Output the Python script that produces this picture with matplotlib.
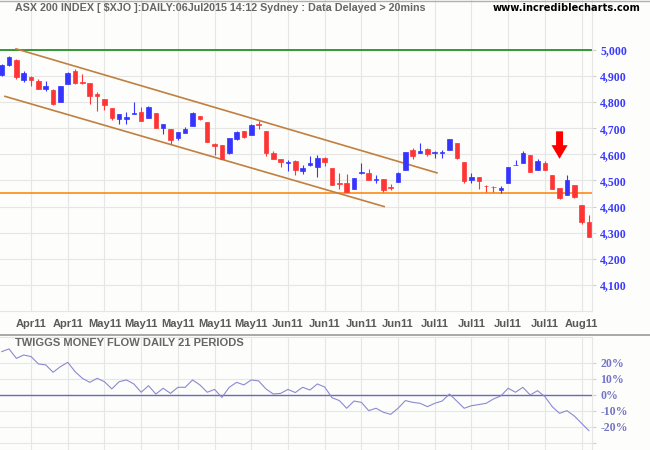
import matplotlib
matplotlib.use('Agg')
import matplotlib.pyplot as plt
from matplotlib.lines import Line2D
from matplotlib.patches import FancyArrow
import numpy as np

# daily candles (index 0..80)
opens = [4904, 4943, 4962, 4885, 4898, 4881, 4851, 4847, 4801, 4871,
         4920, 4878, 4875, 4830, 4813, 4778, 4736, 4734, 4754, 4763,
         4741, 4757, 4699, 4696, 4661, 4683, 4708, 4745, 4724, 4641,
         4634, 4604, 4660, 4688, 4673, 4717, 4688, 4604, 4581, 4568,
         4574, 4537, 4561, 4552, 4585, 4549, 4492, 4490, 4469, 4530,
         4528, 4503, 4505, 4476, 4495, 4540, 4615, 4605, 4619, 4606,
         4606, 4617, 4642, 4572, 4501, 4515, 4480, 4476, 4465, 4490,
         4558, 4567, 4596, 4541, 4566, 4520, 4471, 4446, 4482, 4405,
         4342]
highs = [4947, 4978, 4964, 4920, 4901, 4889, 4881, 4850, 4860, 4916,
         4926, 4908, 4875, 4837, 4813, 4778, 4754, 4763, 4799, 4782,
         4786, 4757, 4715, 4696, 4685, 4706, 4764, 4745, 4724, 4645,
         4634, 4661, 4689, 4688, 4718, 4727, 4688, 4614, 4581, 4577,
         4577, 4558, 4594, 4596, 4590, 4549, 4528, 4524, 4511, 4568,
         4543, 4520, 4505, 4486, 4534, 4610, 4623, 4642, 4625, 4614,
         4616, 4657, 4642, 4572, 4530, 4515, 4484, 4479, 4480, 4551,
         4577, 4614, 4596, 4581, 4573, 4520, 4471, 4520, 4482, 4405,
         4366]
lows = [4900, 4939, 4889, 4878, 4860, 4850, 4841, 4790, 4801, 4869,
        4870, 4870, 4794, 4767, 4771, 4730, 4717, 4715, 4754, 4726,
        4741, 4699, 4676, 4641, 4655, 4680, 4708, 4730, 4647, 4597,
        4581, 4600, 4655, 4661, 4673, 4696, 4594, 4581, 4552, 4536,
        4521, 4523, 4556, 4514, 4556, 4483, 4467, 4456, 4469, 4524,
        4501, 4492, 4456, 4464, 4495, 4540, 4581, 4605, 4594, 4586,
        4586, 4617, 4581, 4492, 4490, 4467, 4457, 4455, 4451, 4490,
        4558, 4567, 4533, 4541, 4541, 4467, 4427, 4446, 4434, 4332,
        4284]
closes = [4943, 4972, 4898, 4913, 4885, 4851, 4862, 4794, 4860, 4911,
          4875, 4873, 4825, 4825, 4787, 4741, 4754, 4744, 4757, 4726,
          4783, 4699, 4715, 4655, 4685, 4696, 4757, 4734, 4647, 4632,
          4583, 4661, 4685, 4667, 4711, 4712, 4606, 4583, 4571, 4572,
          4539, 4549, 4567, 4587, 4571, 4483, 4488, 4456, 4508, 4534,
          4501, 4505, 4463, 4472, 4530, 4610, 4594, 4611, 4600, 4608,
          4608, 4657, 4585, 4496, 4515, 4496, 4477, 4474, 4471, 4551,
          4561, 4604, 4533, 4573, 4541, 4467, 4432, 4501, 4438, 4341,
          4284]

# Twiggs money flow, %
money_flow = [27.1, 28.8, 22.9, 25.0, 24.0, 19.4, 18.8, 14.2, 17.7, 20.4,
              14.6, 10.4, 7.9, 10.4, 8.3, 3.8, 8.3, 9.4, 6.9, 1.7,
              5.8, 0.6, 4.2, 1.0, 4.8, 4.8, 9.4, 6.3, 1.7, 3.5,
              -1.5, 4.8, 7.9, 6.3, 9.4, 8.8, 3.8, 0.6, 1.0, 3.5,
              1.5, 4.8, 3.1, 6.9, 5.0, -1.7, -3.5, -8.3, -3.8, -4.6,
              -9.8, -8.3, -10.8, -12.1, -8.3, -3.5, -4.6, -5.2, -7.3, -5.2,
              -3.8, 0.6, -3.8, -8.3, -6.7, -6.0, -5.2, -2.5, -0.6, 4.2,
              1.7, 4.8, 0.0, 2.7, -1.0, -7.3, -11.5, -9.8, -13.1, -17.7,
              -22.3]

date_ticks = [4, 9, 14, 19, 24, 29, 34, 39, 44, 49, 54, 59, 64, 69, 74, 79]
date_labels = ['Apr11', 'Apr11', 'May11', 'May11', 'May11', 'May11', 'May11', 'Jun11',
               'Jun11', 'Jun11', 'Jun11', 'Jul11', 'Jul11', 'Jul11', 'Jul11', 'Aug11']

price_ticks = [4100, 4200, 4300, 4400, 4500, 4600, 4700, 4800, 4900, 5000]
mf_ticks = [-20, -10, 0, 10, 20]

resistance = 5000
support = 4450
upper_channel = ([1.95, 59.3], [5004, 4529])
lower_channel = ([0.45, 52.1], [4822, 4400])
arrow_idx, arrow_top, arrow_tip = 76, 4688, 4583

bg = '#fdfdfb'
grid_c = '#e6e6e6'
red = '#ff3535'
blue = '#3535ff'
W, H = 650, 450

fig = plt.figure(figsize=(6.5, 4.5), dpi=100, facecolor=bg)
ax = fig.add_axes([0, 1 - 311 / H, 592 / W, 311 / H], facecolor=bg)
ax2 = fig.add_axes([0, 0, 592 / W, 113 / H], facecolor=bg)

x = np.arange(len(closes))
for a in (ax, ax2):
    a.set_xlim(-0.23, 80.42)
    a.set_xticks(date_ticks)
    for s in ('left', 'top'):
        a.spines[s].set_visible(False)
    for s in ('right', 'bottom'):
        a.spines[s].set_color(grid_c)
    a.grid(True, color=grid_c, lw=0.8, zorder=0)
    a.set_axisbelow(True)
    a.yaxis.tick_right()

# candles
for i in x:
    o, hi, lo, c = opens[i], highs[i], lows[i], closes[i]
    col = blue if c >= o else red
    ax.vlines(i, lo, hi, color=col, lw=0.8, zorder=3)
    ax.bar(i, max(abs(c - o), 2), bottom=min(o, c), width=0.62,
           color=col, edgecolor=col, lw=0.5, zorder=4)

ax.axhline(resistance, color='#008000', lw=1.1, zorder=2)
ax.axhline(support, color='#ff8000', lw=1.1, zorder=2)
ax.plot(*upper_channel, color='#c08040', lw=1.2, zorder=2)
ax.plot(*lower_channel, color='#c08040', lw=1.2, zorder=2)
ax.add_patch(FancyArrow(arrow_idx, arrow_top, 0, arrow_tip - arrow_top,
                        width=0.95, head_width=2.2, head_length=52,
                        length_includes_head=True, color='#ff0000', lw=0, zorder=5))

ax.set_ylim(4000, 5191)
ax.set_yticks(price_ticks)
ax.set_yticklabels([f'{v:,}' for v in price_ticks])
ax.tick_params(axis='y', length=3, color='#d0d0d0', pad=3, labelcolor='#3a3aff',
               labelsize=8.5)
for t in ax.get_yticklabels():
    t.set_family('Liberation Serif')
    t.set_fontweight('bold')
ax.set_xticklabels(date_labels)
ax.tick_params(axis='x', length=0, pad=6, labelcolor='#5a5a5a', labelsize=8)
for t in ax.get_xticklabels():
    t.set_family('Liberation Sans')
    t.set_fontweight('bold')

# money flow panel
ax2.plot(x, money_flow, color='#8a8ad2', lw=0.8, zorder=3)
ax2.axhline(0, color='#6a6ab8', lw=1.0, zorder=2)
ax2.set_ylim(-34.4, 36.25)
ax2.set_yticks([-30] + mf_ticks)
ax2.set_yticklabels([''] + [f'{v}%' for v in mf_ticks])
ax2.tick_params(axis='y', length=3, color='#d0d0d0', pad=3, labelcolor='#7474c4',
                labelsize=8.5)
for t in ax2.get_yticklabels():
    t.set_family('Liberation Serif')
    t.set_fontweight('bold')
ax2.tick_params(axis='x', length=0, labelbottom=False)
ax2.spines['top'].set_visible(True)
ax2.spines['top'].set_color(grid_c)

fig.text(15 / W, 1 - 8 / H,
         'ASX 200 INDEX [ $XJO ]:DAILY:06Jul2015 14:12 Sydney : Data Delayed > 20mins',
         ha='left', va='center', fontsize=7.75, fontweight='bold', color='#666666',
         family='Liberation Sans')
fig.text(641 / W, 1 - 8 / H, 'www.incrediblecharts.com', ha='right', va='center',
         fontsize=7.1, fontweight='bold', color='black', family='DejaVu Sans')
fig.text(15 / W, 1 - 343 / H, 'TWIGGS MONEY FLOW DAILY 21 PERIODS', ha='left',
         va='center', fontsize=8, fontweight='bold', color='#666666',
         family='Liberation Sans')

fig.add_artist(Line2D([0, 1], [1 - 0.5 / H] * 2, color='#b0b0b0', lw=1))
fig.add_artist(Line2D([0, 1], [1 - 335 / H] * 2, color='#a8a8a8', lw=1.4))

fig.savefig('out.png', dpi=100, facecolor=bg)
